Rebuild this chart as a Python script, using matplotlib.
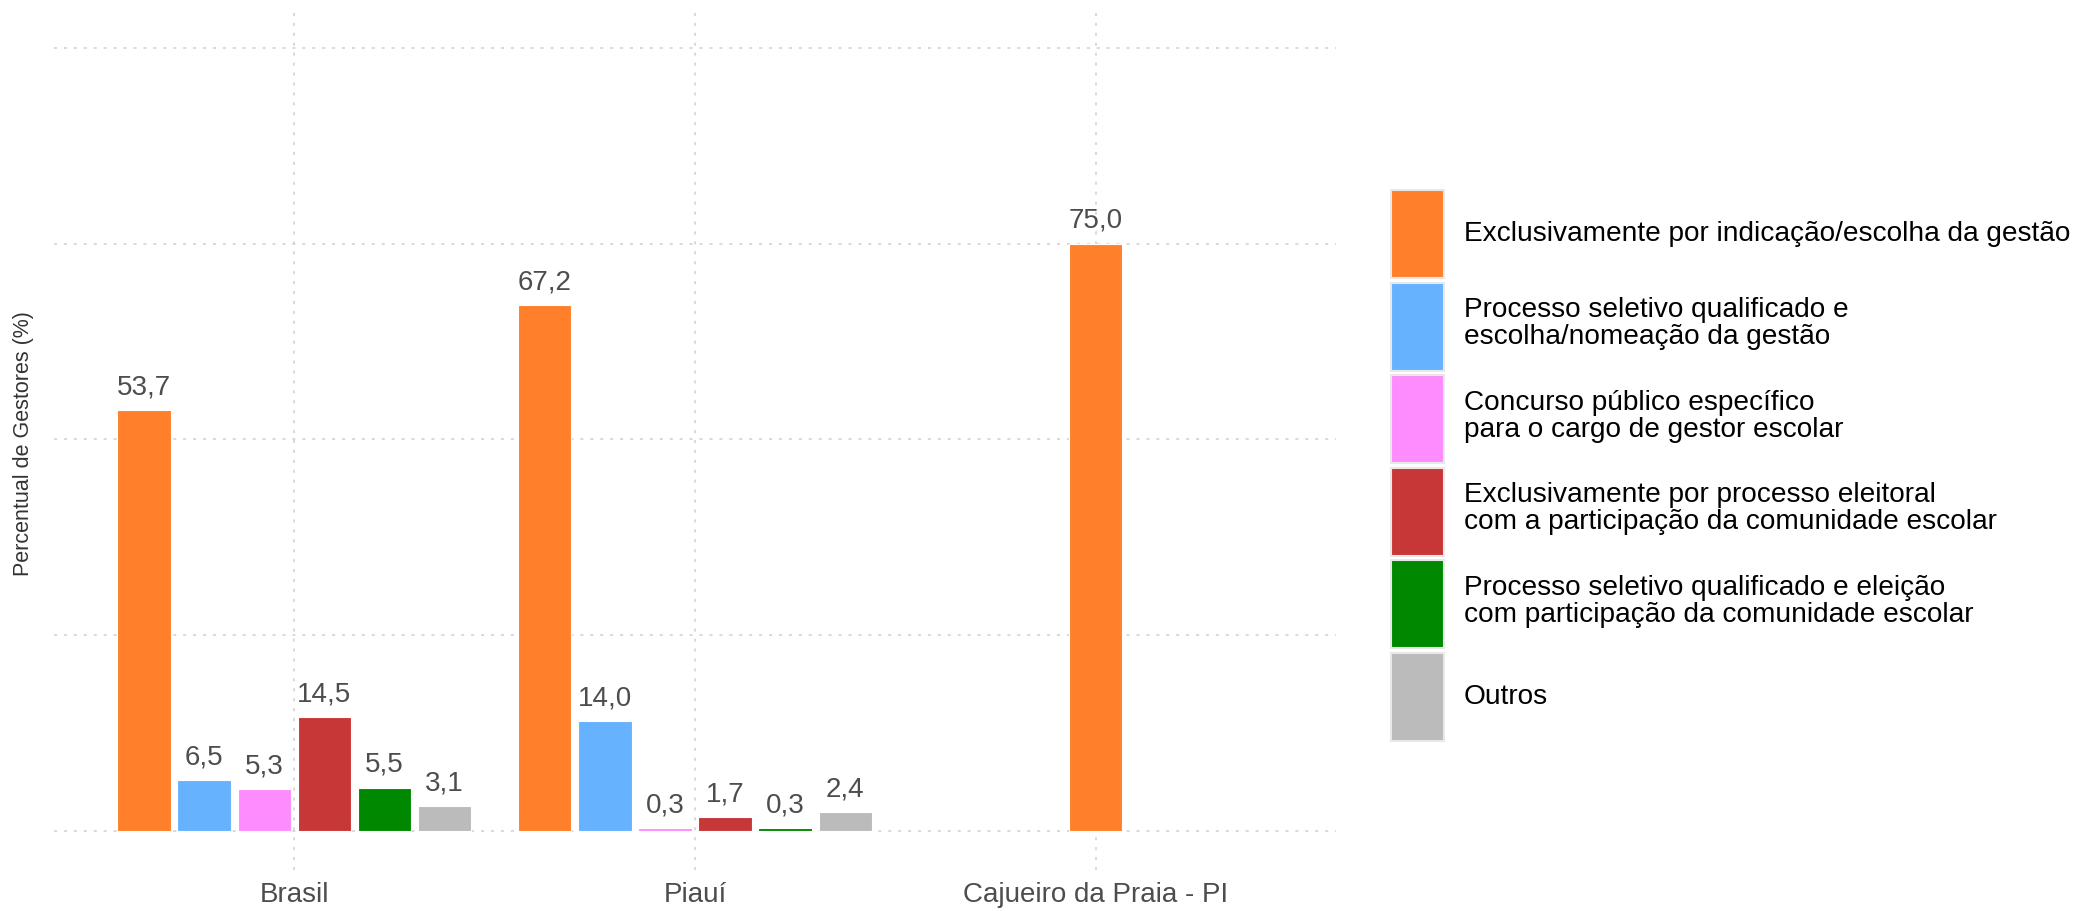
import numpy as np
import matplotlib
matplotlib.use("Agg")
import matplotlib.pyplot as plt
from matplotlib.patches import Patch

plt.rcParams['font.family'] = ['Liberation Sans', 'DejaVu Sans']

categories = ["Brasil", "Piauí", "Cajueiro da Praia - PI"]
series_labels = [
    "Exclusivamente por indicação/escolha da gestão",
    "Processo seletivo qualificado e\nescolha/nomeação da gestão",
    "Concurso público específico\npara o cargo de gestor escolar",
    "Exclusivamente por processo eleitoral\ncom a participação da comunidade escolar",
    "Processo seletivo qualificado e eleição\ncom participação da comunidade escolar",
    "Outros",
]
colors = ["#FF7F2A", "#66B2FF", "#FF8CFF", "#C83737", "#008800", "#BBBBBB"]
values = {
    "Brasil": [53.7, 6.5, 5.3, 14.5, 5.5, 3.1],
    "Piauí": [67.2, 14.0, 0.3, 1.7, 0.3, 2.4],
    "Cajueiro da Praia - PI": [75.0, None, None, None, None, None],
}

W, H = 2080, 911
fig = plt.figure(figsize=(W / 100, H / 100), dpi=100)
left, right, top, bottom = 53.9, 1336.1, 8.9, 869.8
ax = fig.add_axes([left / W, 1 - bottom / H, (right - left) / W, (bottom - top) / H])

slot = 0.9 / 6
bw = 0.8 / 6
for ci, cat in enumerate(categories):
    vals = values[cat]
    present = [i for i, v in enumerate(vals) if v is not None]
    n = len(present)
    for k, i in enumerate(present):
        x = ci + 1 + (k - (n - 1) / 2) * slot
        v = vals[i]
        ax.bar(x, v, width=bw, color=colors[i], edgecolor="white", linewidth=0.8, zorder=3)
        ax.annotate(f"{v:.1f}".replace(".", ","), (x, v), xytext=(0, 7),
                    textcoords="offset points", ha="center", va="bottom",
                    fontsize=20, color="#4D4D4D", zorder=4)

ax.set_xlim(0.4, 3.6)
ax.set_ylim(-5, 105)
ax.set_yticks([0, 25, 50, 75, 100])
ax.set_yticklabels([])
ax.set_xticks([1, 2, 3])
ax.set_xticklabels(categories, fontsize=20, color="#4D4D4D")
ax.tick_params(axis="both", length=0)
ax.tick_params(axis="x", pad=9)
ax.grid(True, color="#D0D0D0", linestyle=(0, (2, 4.5)), linewidth=1.1, zorder=0)
for s in ax.spines.values():
    s.set_visible(False)

fig.text(24 / W, 1 - 444 / H, "Percentual de Gestores (%)", rotation=90,
         ha="center", va="center", fontsize=15.5, color="#333333")

handles = [Patch(facecolor=c, edgecolor="#E8E8E8", linewidth=1.5) for c in colors]
leg = ax.legend(handles, series_labels, loc="upper left",
                bbox_to_anchor=(1391 / W, 1 - 190 / H), bbox_transform=fig.transFigure,
                frameon=False, fontsize=20.2, handlelength=1.89, handleheight=4.45,
                handletextpad=0.71, labelspacing=0.16, borderpad=0, borderaxespad=0)
for t in leg.get_texts():
    t.set_linespacing(1.07)

fig.savefig("out.png", dpi=100)
